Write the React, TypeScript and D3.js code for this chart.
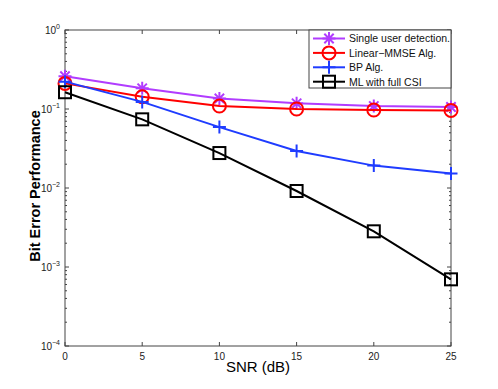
import React from "react";
import * as d3 from "d3";

const snr = [0, 5, 10, 15, 20, 25];
const singleUser = [0.26, 0.183, 0.136, 0.118, 0.109, 0.106];
const linearMMSE = [0.211, 0.143, 0.109, 0.1, 0.097, 0.096];
const bpAlg = [0.222, 0.123, 0.059, 0.0294, 0.0192, 0.0153];
const mlFullCSI = [0.163, 0.074, 0.0277, 0.00916, 0.00283, 0.000698];

const xTicks = [0, 5, 10, 15, 20, 25];
const yDecades = [-4, -3, -2, -1, 0];

const series = [
  { name: "Single user detection.", values: singleUser, color: "#b13cff", marker: "star" },
  { name: "Linear\u2212MMSE Alg.", values: linearMMSE, color: "#ff0000", marker: "circle" },
  { name: "BP Alg.", values: bpAlg, color: "#1f3cff", marker: "plus" },
  { name: "ML with full CSI", values: mlFullCSI, color: "#000000", marker: "square" },
];

const W = 498, H = 389;
const L = 65, R = 451, T = 30, B = 346;
const axisColor = "#444";
const font = "'Liberation Sans', Arial, Helvetica, sans-serif";

function Marker({ type, x, y, color }: { type: string; x: number; y: number; color: string }) {
  if (type === "circle") return <circle cx={x} cy={y} r={6.5} fill="none" stroke={color} strokeWidth={2} />;
  if (type === "square") return <rect x={x - 6} y={y - 6} width={12} height={12} fill="none" stroke={color} strokeWidth={2} />;
  if (type === "plus") {
    const s = 6.5;
    return <path d={`M${x - s},${y}H${x + s}M${x},${y - s}V${y + s}`} stroke={color} strokeWidth={2} />;
  }
  const s = 6.5, d = s * 0.72;
  return (
    <path
      d={`M${x - s},${y}H${x + s}M${x},${y - s}V${y + s}M${x - d},${y - d}L${x + d},${y + d}M${x - d},${y + d}L${x + d},${y - d}`}
      stroke={color}
      strokeWidth={2}
    />
  );
}

export default function App() {
  const x = d3.scaleLinear().domain([0, 25]).range([L, R]);
  const y = d3.scaleLog().domain([1e-4, 1]).range([B, T]);
  const line = d3.line<number>().x((_, i) => x(snr[i])).y((v) => y(v));

  const minor: number[] = [];
  for (let e = -4; e < 0; e++) for (let k = 2; k <= 9; k++) minor.push(k * Math.pow(10, e));

  return (
    <svg width={W} height={H} style={{ position: "absolute", left: 0, top: 0, background: "#fff" }} fontFamily={font}>
      <rect x={0} y={0} width={W} height={H} fill="#fff" />
      {/* plot box */}
      <rect x={L} y={T} width={R - L} height={B - T} fill="none" stroke={axisColor} strokeWidth={1} />
      {/* x ticks */}
      {xTicks.map((t) => (
        <g key={"xt" + t}>
          <line x1={x(t)} x2={x(t)} y1={B} y2={B - 4} stroke={axisColor} />
          <line x1={x(t)} x2={x(t)} y1={T} y2={T + 4} stroke={axisColor} />
          <text x={x(t)} y={B + 14} fontSize={10} textAnchor="middle" fill="#222">{t}</text>
        </g>
      ))}
      {/* y ticks */}
      {yDecades.map((e) => (
        <g key={"yt" + e}>
          <line x1={L} x2={L + 4} y1={y(Math.pow(10, e))} y2={y(Math.pow(10, e))} stroke={axisColor} />
          <line x1={R} x2={R - 4} y1={y(Math.pow(10, e))} y2={y(Math.pow(10, e))} stroke={axisColor} />
          <text x={L - 5} y={y(Math.pow(10, e)) + 4} fontSize={10} textAnchor="end" fill="#222">
            10<tspan dy={-5} fontSize={7}>{e === 0 ? "0" : "\u2212" + -e}</tspan>
          </text>
        </g>
      ))}
      {minor.map((v, i) => (
        <g key={"m" + i}>
          <line x1={L} x2={L + 2} y1={y(v)} y2={y(v)} stroke={axisColor} />
          <line x1={R} x2={R - 2} y1={y(v)} y2={y(v)} stroke={axisColor} />
        </g>
      ))}
      {/* series */}
      {series.map((s) => (
        <g key={s.name}>
          <path d={line(s.values) || ""} fill="none" stroke={s.color} strokeWidth={2} />
          {s.values.map((v, i) => (
            <Marker key={i} type={s.marker} x={x(snr[i])} y={y(v)} color={s.color} />
          ))}
        </g>
      ))}
      {/* legend */}
      <rect x={309} y={T} width={R - 309} height={58} fill="#fff" stroke={axisColor} strokeWidth={1} />
      {series.map((s, i) => {
        const ly = 38.5 + i * 14.4;
        return (
          <g key={"lg" + s.name}>
            <line x1={313} x2={345} y1={ly} y2={ly} stroke={s.color} strokeWidth={2} />
            <Marker type={s.marker} x={329} y={ly} color={s.color} />
            <text x={349} y={ly + 3.8} fontSize={10.5} fill="#111">{s.name}</text>
          </g>
        );
      })}
      {/* axis labels */}
      <text x={(L + R) / 2} y={B + 26} fontSize={15} textAnchor="middle" fill="#000">SNR (dB)</text>
      <text
        transform={`translate(40,186) rotate(-90)`}
        fontSize={14.5}
        fontWeight="bold"
        textAnchor="middle"
        fill="#000"
      >
        Bit Error Performance
      </text>
    </svg>
  );
}
